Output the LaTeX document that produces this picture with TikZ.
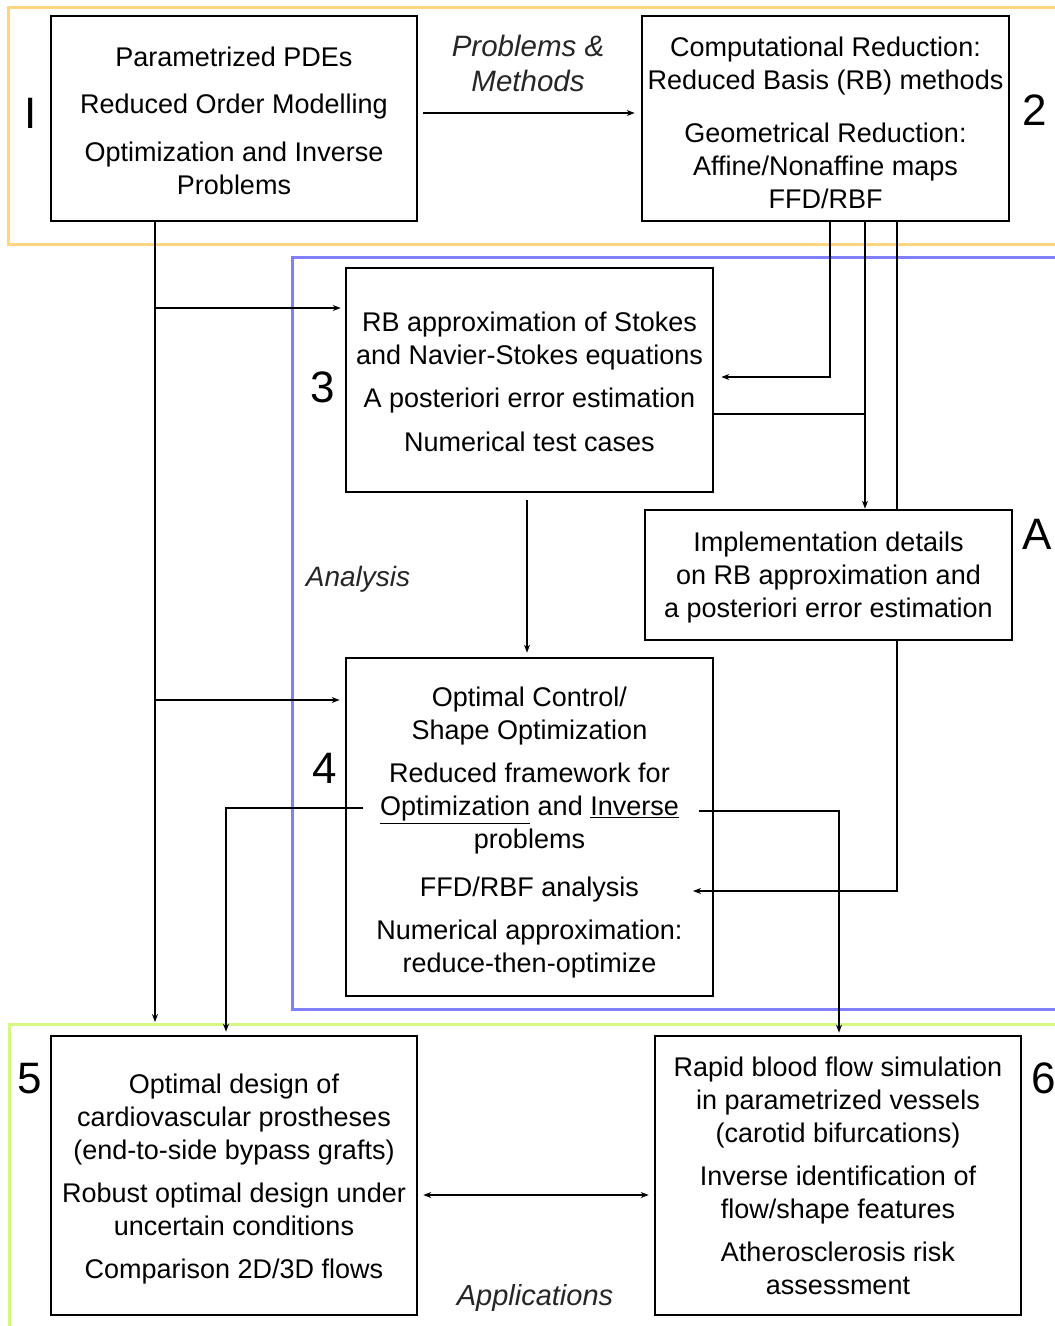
\documentclass[tikz,border=0pt]{standalone}
\usepackage{fontspec}
\setmainfont{Liberation Sans}
\usetikzlibrary{arrows.meta}
\definecolor{frameO}{HTML}{FFD67F}
\definecolor{frameB}{HTML}{8080FF}
\definecolor{frameG}{HTML}{D6F783}
\newcommand\mytopstrut[1]{\rule{0pt}{#1}}
\begin{document}
\begin{tikzpicture}[x=1pt,y=-1pt,
  box/.style={draw,line width=2.6pt,fill=white,align=center,inner sep=0pt,font=\fontsize{27}{33}\selectfont},
  num/.style={font=\fontsize{44}{44}\selectfont,inner sep=0pt},
  ital/.style={font=\fontsize{29.5}{35}\selectfont\itshape,text=black!85,align=center,inner sep=0pt},
  conn/.style={line width=1.3pt},
  arr/.style={conn,-{Stealth[length=8pt,width=6pt]}},
  arrtwo/.style={conn,{Stealth[length=8pt,width=6pt]}-{Stealth[length=8pt,width=6pt]}}]
\useasboundingbox (0,0) rectangle (1055,1326);
\clip (0,0) rectangle (1055,1326);
\fill[white] (0,0) rectangle (1055,1326);

% frames
\draw[frameO,line width=3pt] (8,7) rectangle (1080,244);
\draw[frameB,line width=3pt] (292,257) rectangle (1080,1009);
\draw[frameG,line width=3pt] (9,1024) rectangle (1080,1345);

% boxes
\node[box,minimum width=366pt,minimum height=205pt] (b1) at (234,118.5)
  {\mytopstrut{23.5pt}Parametrized PDEs\\[14pt] Reduced Order Modelling\\[15pt] Optimization and Inverse\\ Problems};
\node[box,minimum width=367pt,minimum height=205pt] (b2) at (825.5,118.5)
  {\mytopstrut{28.5pt}Computational Reduction:\\ Reduced Basis (RB) methods\\[20pt] Geometrical Reduction:\\ Affine/Nonaffine maps\\ FFD/RBF};
\node[box,minimum width=367pt,minimum height=224pt] (b3) at (529.5,380)
  {\mytopstrut{23.5pt}RB approximation of Stokes\\ and Navier-Stokes equations\\[10pt] A posteriori error estimation\\[11pt] Numerical test cases};
\node[box,minimum width=367pt,minimum height=338pt] (b4) at (529.5,827)
  {\mytopstrut{31.5pt}Optimal Control/\\ Shape Optimization\\[10pt] Reduced framework for\\ \underline{Optimization} and \underline{Inverse}\\ problems\\[15pt] FFD/RBF analysis\\[10pt] Numerical approximation:\\ reduce-then-optimize};
\node[box,minimum width=366pt,minimum height=279pt] (b5) at (234,1175.5)
  {\mytopstrut{27.5pt}Optimal design of\\ cardiovascular prostheses\\ (end-to-side bypass grafts)\\[10pt] Robust optimal design under\\ uncertain conditions\\[10pt] Comparison 2D/3D flows};
\node[box,minimum width=366pt,minimum height=279pt] (b6) at (838,1175.5)
  {Rapid blood flow simulation\\ in parametrized vessels\\ (carotid bifurcations)\\[10pt] Inverse identification of\\ flow/shape features\\[10pt] Atherosclerosis risk\\ assessment};

% helper coordinates
\coordinate (y113) at (0,113);
\coordinate (v155) at (155,1022);
\coordinate (j3) at (155,308);
\coordinate (j4) at (155,700);
\coordinate (k830) at (830,377);
\coordinate (k865) at (865,0);
\coordinate (j865) at (865,414);
\coordinate (k897) at (897,0);
\coordinate (t4r) at (693,891);
\coordinate (k527) at (527,0);
\coordinate (s4l) at (363,808);
\coordinate (k226) at (226,0);
\coordinate (s4r) at (699,811);
\coordinate (k839) at (839,0);
\coordinate (y1195) at (0,1195);

% line passing behind box A
\draw[arr] (b2.south -| k897) |- (t4r);

\node[box,minimum width=367pt,minimum height=130pt] (bA) at (828.5,575)
  {\mytopstrut{25.5pt}Implementation details\\ on RB approximation and\\ a posteriori error estimation};

% connectors
\draw[arr,shorten <=5pt,shorten >=6pt] (b1.east |- y113) -- (b2.west |- y113);
\draw[arr] (b1.south -| v155) -- (v155);
\draw[arr,shorten >=4pt] (j3) -- (b3.west |- j3);
\draw[arr,shorten >=5pt] (j4) -- (b4.west |- j4);
\draw[arr,shorten >=7pt] (b2.south -| k830) |- (b3.east |- k830);
\draw[arr] (b2.south -| k865) -- (bA.north -| k865);
\draw[conn] (b3.east |- j865) -- (j865);
\draw[arr,shorten <=7pt,shorten >=4pt] (b3.south -| k527) -- (b4.north -| k527);
\draw[arr,shorten >=3pt] (s4l) -| (b5.north -| k226);
\draw[arr,shorten >=2pt] (s4r) -| (b6.north -| k839);
\draw[arrtwo,shorten <=5pt,shorten >=5pt] (b5.east |- y1195) -- (b6.west |- y1195);

% number labels
\node[num] (nI) at (31,113) {I};
\node[num] (n2) at (1035,110) {2};
\node[num] (n3) at (323,387) {3};
\node[num] (nA) at (1037,534) {A};
\node[num] (n4) at (325,768) {4};
\node[num] (n5) at (30,1079) {5};
\node[num] (n6) at (1044,1078) {6};

% italic labels
\node[ital] (pm) at (528,63) {Problems \&\\ Methods};
\node[ital,font=\fontsize{28}{34}\selectfont\itshape] (an) at (358,579) {Analysis};
\node[ital,font=\fontsize{29}{34}\selectfont\itshape] (ap) at (535,1298) {Applications};
\end{tikzpicture}
\end{document}
